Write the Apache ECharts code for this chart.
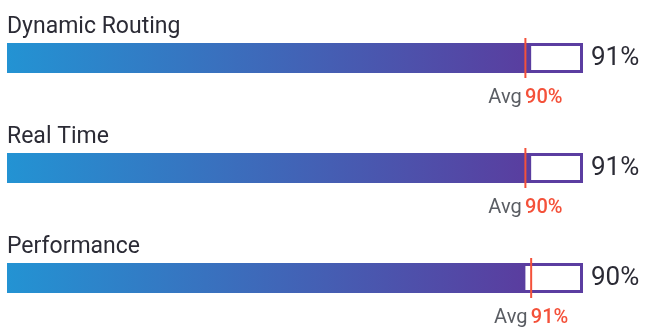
<!DOCTYPE html>
<html>
<head>
<meta charset="utf-8">
<script src="https://cdn.jsdelivr.net/npm/echarts@6/dist/echarts.min.js"></script>
<style>
  html, body { margin: 0; padding: 0; background: #fff; }
  #chart { width: 645px; height: 327px; }
</style>
</head>
<body>
<div id="chart"></div>
<script>
// Metric names, scores and averages (percent)
const categories = ['Dynamic Routing', 'Real Time', 'Performance'];
const scores = [91, 91, 90];
const averages = [90, 90, 91];
const trackMax = 100;

const FONT = 'Roboto, "Noto Sans", sans-serif';

const chart = echarts.init(document.getElementById('chart'), null, { renderer: 'canvas' });

chart.setOption({
  animation: false,
  backgroundColor: '#ffffff',
  grid: {
    left: 7, right: 62, top: 3, height: 330,
    containLabel: false,
    outerBoundsMode: 'none'
  },
  xAxis: { type: 'value', min: 0, max: trackMax, show: false },
  yAxis: { type: 'category', data: categories, inverse: true, show: false },
  series: [
    {
      // full-length outlined track with the score printed to its right
      name: 'track',
      type: 'bar',
      data: categories.map(() => trackMax),
      barWidth: 30,
      barGap: '-100%',
      silent: true,
      itemStyle: { color: '#ffffff', borderColor: '#5b3da1', borderWidth: 3 },
      label: {
        show: true,
        position: 'right',
        distance: 8,
        formatter: p => scores[p.dataIndex] + '%',
        fontFamily: FONT,
        fontSize: 26,
        color: '#2b2b35'
      },
      z: 1
    },
    {
      // gradient score bar with the metric name above it
      name: 'score',
      type: 'bar',
      data: scores,
      barWidth: 30,
      barGap: '-100%',
      silent: true,
      itemStyle: {
        color: new echarts.graphic.LinearGradient(0, 0, 1, 0, [
          { offset: 0, color: '#2393d3' },
          { offset: 1, color: '#5a3d9f' }
        ])
      },
      label: {
        show: true,
        position: [0, -16],
        align: 'left',
        verticalAlign: 'middle',
        formatter: '{b}',
        fontFamily: FONT,
        fontSize: 23,
        color: '#2b2b35'
      },
      z: 2
    },
    {
      // average marker line with its caption underneath
      name: 'average',
      type: 'scatter',
      data: averages.map((v, i) => [v, i]),
      symbol: 'rect',
      symbolSize: [2, 40],
      silent: true,
      itemStyle: { color: '#f4513a', opacity: 1 },
      label: {
        show: true,
        position: 'bottom',
        distance: 10,
        formatter: p => '{a|Avg} {b|' + p.value[0] + '%}',
        rich: {
          a: { fontFamily: FONT, fontSize: 20, color: '#5a5d63' },
          b: { fontFamily: FONT, fontSize: 20, color: '#f4513a', fontWeight: 500 }
        }
      },
      z: 3
    }
  ]
});
</script>
</body>
</html>
